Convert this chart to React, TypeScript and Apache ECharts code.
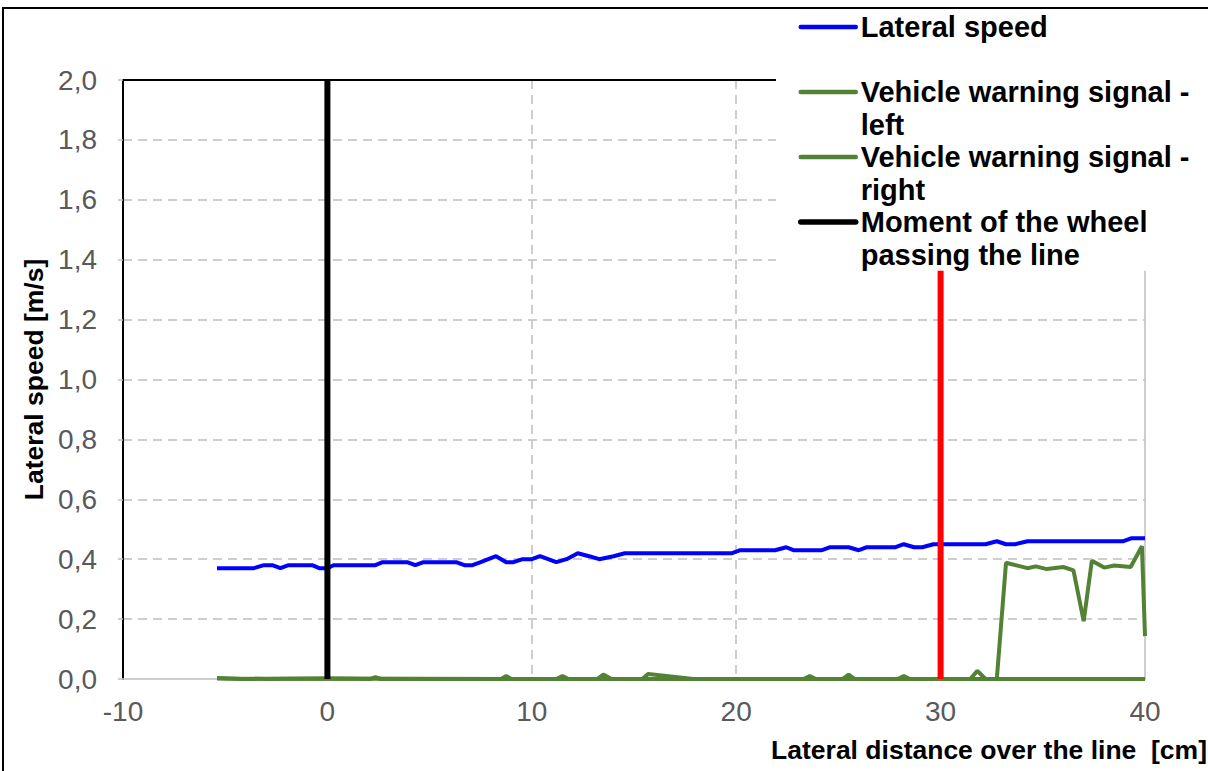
import React, { useEffect, useRef } from "react";
import * as echarts from "echarts";

const FONT = "Arial, 'Liberation Sans', Helvetica, sans-serif";

// X axis (lateral distance, cm) and Y axis (m/s) ranges
const xMin = -10;
const xMax = 40;
const xStep = 10;
const yMin = 0;
const yMax = 2;
const yStep = 0.2;

// Lateral speed series
const lateralDistance = [
  -5.4, -3.6, -3.1, -2.7, -2.3, -1.9, -0.75, -0.4, 0.0, 0.3, 2.35, 2.7, 3.9, 4.3, 4.7, 6.3, 6.7, 7.1, 7.5,
  8.25, 8.75, 9.1, 9.55, 10.0, 10.4, 11.2, 11.7, 12.25, 12.8, 13.3, 14.0, 14.55, 19.8, 20.2, 21.9, 22.45,
  22.8, 24.2, 24.6, 25.5, 26.0, 26.4, 27.8, 28.2, 28.7, 29.1, 29.65, 32.2, 32.75, 33.2, 33.65, 34.25,
  38.95, 39.35, 40.0,
];
const lateralSpeed = [
  0.37, 0.37, 0.38, 0.38, 0.37, 0.38, 0.38, 0.37, 0.37, 0.38, 0.38, 0.39, 0.39, 0.38, 0.39, 0.39, 0.38, 0.38, 0.39,
  0.41, 0.39, 0.39, 0.4, 0.4, 0.41, 0.39, 0.4, 0.42, 0.41, 0.4, 0.41, 0.42, 0.42, 0.43, 0.43, 0.44,
  0.43, 0.43, 0.44, 0.44, 0.43, 0.44, 0.44, 0.45, 0.44, 0.44, 0.45, 0.45, 0.46, 0.45, 0.45, 0.46,
  0.46, 0.47, 0.47,
];

// Vehicle warning signal - left
const warnLeftDistance = [-5.4, -4.2, -3.0, 0.0, 10.0, 20.0, 30.0, 40.0];
const warnLeftValue = [0.003, 0.0, 0.001, 0.002, 0.0, 0.0, 0.0, 0.0];

// Vehicle warning signal - right
const warnRightDistance = [
  -5.4, -3.0, 0.0, 2.1, 2.35, 2.6, 8.5, 8.75, 9.0, 11.2, 11.5, 11.8, 13.2, 13.5, 13.9, 15.4, 15.7, 17.9,
  23.3, 23.6, 23.9, 25.2, 25.5, 25.8, 27.9, 28.2, 28.5, 31.45, 31.8, 32.2, 32.75, 33.2, 34.25, 34.65,
  35.2, 36.0, 36.5, 37.0, 37.4, 38.0, 38.5, 39.3, 39.85, 40.0,
];
const warnRightValue = [
  0.002, 0.0, 0.002, 0.0, 0.006, 0.0, 0.0, 0.01, 0.0, 0.0, 0.01, 0.0, 0.0, 0.015, 0.0, 0.0, 0.017, 0.0,
  0.0, 0.01, 0.0, 0.0, 0.015, 0.0, 0.0, 0.01, 0.0, 0.0, 0.027, 0.0, 0.0, 0.388, 0.37, 0.376,
  0.367, 0.374, 0.363, 0.193, 0.395, 0.372, 0.379, 0.374, 0.443, 0.143,
];

// Moment of the wheel passing the line (vertical marker at 0)
const wheelDistance = [0, 0];
const wheelValue = [0, 2];

// Red vertical marker at 30 cm
const redDistance = [30, 30];
const redValue = [0, 2];

const seriesNames = [
  "Lateral speed",
  "Vehicle warning signal - left",
  "Vehicle warning signal - right",
  "Moment of the wheel passing the line",
];
const seriesColors = ["#0000FF", "#548235", "#548235", "#000000"];
const seriesWidths = [4, 4, 4, 6];
const legendLabels: Record<string, string> = {
  "Lateral speed": "\nLateral speed\n",
  "Vehicle warning signal - left": "\nVehicle warning signal -\nleft",
  "Vehicle warning signal - right": "\nVehicle warning signal -\nright",
  "Moment of the wheel passing the line": "\nMoment of the wheel\npassing the line",
};

const xTitle = "Lateral distance over the line  [cm]";
const yTitle = "Lateral speed [m/s]";

const pairs = (xs: number[], ys: number[]) => xs.map((x, i) => [x, ys[i]]);

export default function App() {
  const ref = useRef<HTMLDivElement>(null);

  useEffect(() => {
    if (!ref.current) return;
    const chart = echarts.init(ref.current, undefined, { renderer: "svg" });
    const grey = "#BFBFBF";
    const lineSeries = (i: number, data: number[][]) => ({
      name: seriesNames[i],
      type: "line",
      symbol: "none",
      data,
      lineStyle: { color: seriesColors[i], width: seriesWidths[i] },
      itemStyle: { color: seriesColors[i] },
    });
    const option: any = {
      animation: false,
      backgroundColor: "#ffffff",
      grid: { left: 123, right: 63, top: 80, bottom: 92, outerBoundsMode: "none" },
      xAxis: [
        {
          type: "value",
          min: xMin,
          max: xMax,
          interval: xStep,
          position: "bottom",
          axisLine: { show: true, onZero: false, lineStyle: { color: grey, width: 1.5 } },
          axisTick: { show: false },
          axisLabel: { color: "#595959", fontSize: 28, fontFamily: FONT, margin: 18 },
          splitLine: {
            show: true,
            showMinLine: false,
            showMaxLine: false,
            lineStyle: { color: grey, width: 1.5, type: [9, 6] },
          },
        },
        {
          type: "value",
          min: xMin,
          max: xMax,
          position: "top",
          axisLine: { show: true, onZero: false, lineStyle: { color: "#000", width: 2 } },
          axisTick: { show: false },
          axisLabel: { show: false },
          splitLine: { show: false },
        },
      ],
      yAxis: [
        {
          type: "value",
          min: yMin,
          max: yMax,
          interval: yStep,
          position: "left",
          name: yTitle,
          nameLocation: "middle",
          nameRotate: 90,
          nameGap: 58,
          nameTextStyle: { fontSize: 26.5, fontWeight: "bold", color: "#000", fontFamily: FONT },
          axisLine: { show: true, onZero: false, lineStyle: { color: "#000", width: 2 } },
          axisTick: { show: true, length: 5, lineStyle: { color: grey, width: 1.5 } },
          axisLabel: {
            color: "#595959",
            fontSize: 28,
            fontFamily: FONT,
            margin: 26,
            formatter: (v: number) => v.toFixed(1).replace(".", ","),
          },
          splitLine: {
            show: true,
            showMinLine: false,
            showMaxLine: false,
            lineStyle: { color: grey, width: 1.5, type: [9, 6] },
          },
        },
        {
          type: "value",
          min: yMin,
          max: yMax,
          position: "right",
          axisLine: { show: true, onZero: false, lineStyle: { color: grey, width: 1.5 } },
          axisTick: { show: false },
          axisLabel: { show: false },
          splitLine: { show: false },
        },
      ],
      legend: {
        data: seriesNames.map((name, i) => ({
          name,
          lineStyle: { color: seriesColors[i], width: seriesWidths[i] === 6 ? 5.5 : 4.5, cap: "round" },
          itemStyle: { opacity: 0 },
        })),
        orient: "vertical",
        left: 776,
        top: -26.75,
        padding: [5, 12, 0, 22],
        itemGap: -32.5,
        itemWidth: 55,
        itemHeight: 14,
        backgroundColor: "#ffffff",
        z: 10,
        selectedMode: false,
        itemStyle: { opacity: 0 },
        formatter: (n: string) => legendLabels[n] ?? n,
        textStyle: { fontSize: 29, fontWeight: "bold", color: "#000", fontFamily: FONT, lineHeight: 32.5 },
      },
      graphic: [
        {
          type: "rect",
          z: 20,
          silent: true,
          shape: { x: 3, y: 8, width: 1400, height: 1000 },
          style: { fill: "none", stroke: "#000", lineWidth: 2 },
        },
        {
          type: "text",
          z: 20,
          x: 1207,
          y: 750,
          style: {
            text: xTitle,
            fontSize: 26.5,
            fontWeight: "bold",
            fontFamily: FONT,
            fill: "#000",
            align: "right",
            verticalAlign: "middle",
          },
        },
      ],
      series: [
        lineSeries(0, pairs(lateralDistance, lateralSpeed)),
        lineSeries(1, pairs(warnLeftDistance, warnLeftValue)),
        lineSeries(2, pairs(warnRightDistance, warnRightValue)),
        lineSeries(3, pairs(wheelDistance, wheelValue)),
        {
          name: "Reference line at 30 cm",
          type: "line",
          symbol: "none",
          data: pairs(redDistance, redValue),
          lineStyle: { color: "#FF0000", width: 6 },
          itemStyle: { color: "#FF0000" },
        },
      ],
    };
    chart.setOption(option);
    return () => chart.dispose();
  }, []);

  return (
    <div
      ref={ref}
      style={{ position: "absolute", left: 0, top: 0, width: 1208, height: 771, background: "#fff" }}
    />
  );
}
